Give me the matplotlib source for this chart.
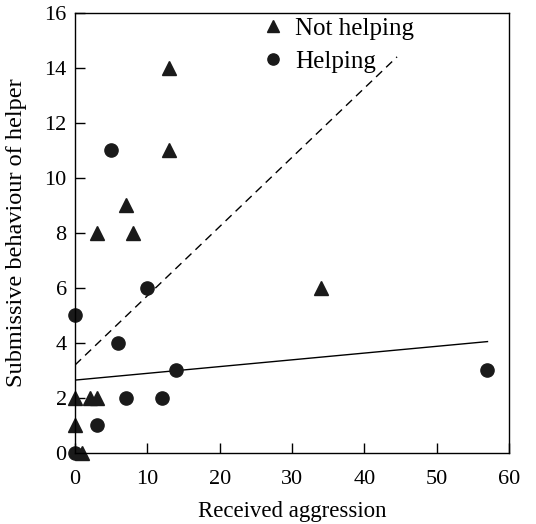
import matplotlib
matplotlib.use('Agg')
import matplotlib.pyplot as plt

plt.rcParams['font.family'] = ['Liberation Serif', 'DejaVu Serif']

# not helping (triangles)
nh_x = [13, 13, 7, 3, 8, 34, 0, 2, 3, 0, 1]
nh_y = [14, 11, 9, 8, 8, 6, 2, 2, 2, 1, 0]

# helping (circles)
h_x = [5, 10, 0, 6, 14, 57, 7, 12, 3, 0]
h_y = [11, 6, 5, 4, 3, 3, 2, 2, 1, 0]

# fitted lines
nh_fit_x = [0, 44.5]
nh_fit_y = [3.2, 14.4]
h_fit_x = [0, 57]
h_fit_y = [2.65, 4.05]

fig = plt.figure(figsize=(5.36, 5.24), dpi=100)
ax = fig.add_axes([0.14, 0.1355, 0.81, 0.84])

ax.plot(nh_fit_x, nh_fit_y, color='black', lw=1, ls=(0, (6, 4)))
ax.plot(h_fit_x, h_fit_y, color='black', lw=1)
ax.plot(nh_x, nh_y, '^', color='#1a1a1a', ms=9.5, ls='none', label='Not helping', clip_on=False)
ax.plot(h_x, h_y, 'o', color='#1a1a1a', ms=9.5, ls='none', label='Helping', clip_on=False)

ax.set_xlim(0, 60)
ax.set_ylim(0, 16)
ax.set_xticks(range(0, 61, 10))
ax.set_yticks(range(0, 17, 2))
ax.tick_params(direction='in', length=7, width=1, labelsize=16, pad=6)
ax.tick_params(axis='x', pad=12)
for s in ax.spines.values():
    s.set_linewidth(1)

ax.set_xlabel('Received aggression', fontsize=16.5, labelpad=9)
ax.set_ylabel('Submissive behaviour of helper', fontsize=17.5)
ax.yaxis.set_label_coords(-0.11, 0.5)

leg = ax.legend(loc='upper left', bbox_to_anchor=(0.375, 1.04), frameon=False, fontsize=18,
                handletextpad=0.4, labelspacing=0.4, handlelength=1.0, markerscale=0.85)

fig.savefig('out.png', dpi=100)
